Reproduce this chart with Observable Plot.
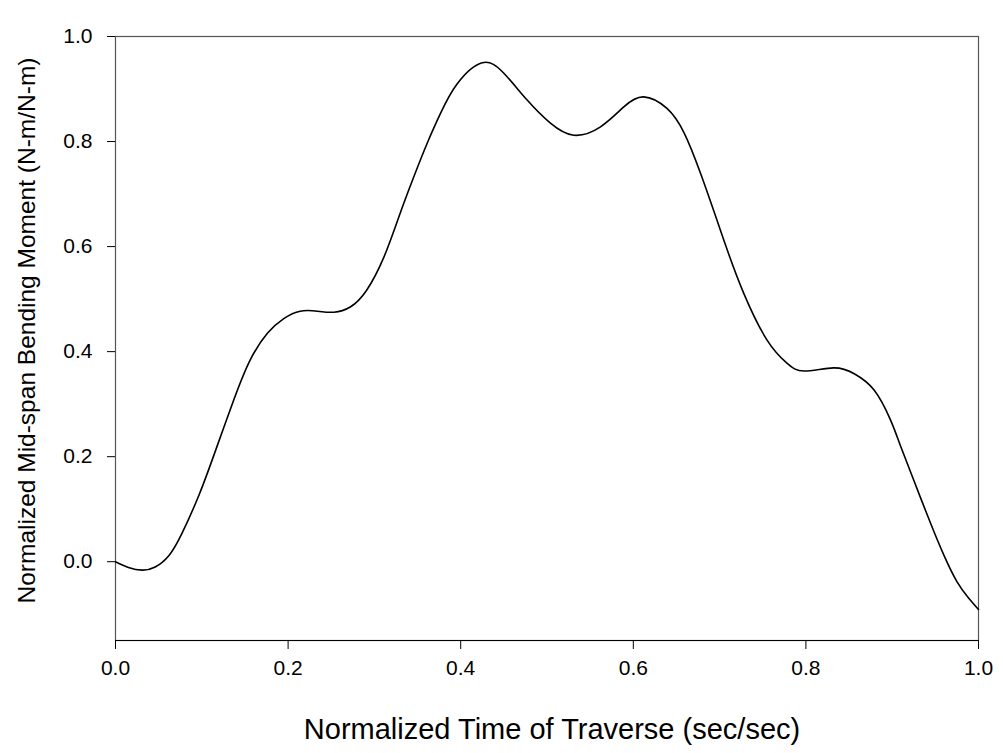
<!DOCTYPE html>
<html>
<head>
<meta charset="utf-8">
<script src="https://cdn.jsdelivr.net/npm/d3@7"></script>
<script src="https://cdn.jsdelivr.net/npm/@observablehq/plot@0.6"></script>
<style>
  html, body { margin: 0; padding: 0; background: #fff; }
  .ch g[aria-label$="tick label"], .ch g[aria-label$="tick label"] text { font-size: 21px; }
</style>
</head>
<body>
<div id="chart"></div>
<script>
const timeValues = [0.000, 0.015, 0.031, 0.046, 0.062, 0.077, 0.097, 0.116, 0.137, 0.156, 0.176, 0.195, 0.214, 0.234, 0.253, 0.272, 0.291, 0.311, 0.328, 0.345, 0.362, 0.377, 0.396, 0.425, 0.450, 0.477, 0.504, 0.531, 0.562, 0.589, 0.612, 0.639, 0.659, 0.678, 0.697, 0.709, 0.728, 0.755, 0.778, 0.798, 0.832, 0.856, 0.879, 0.898, 0.910, 0.925, 0.944, 0.960, 0.975, 0.988, 1.000];
const momentValues = [0.000, -0.011, -0.016, -0.010, 0.012, 0.054, 0.128, 0.212, 0.308, 0.384, 0.435, 0.463, 0.477, 0.477, 0.475, 0.485, 0.517, 0.580, 0.655, 0.730, 0.800, 0.855, 0.910, 0.950, 0.930, 0.879, 0.835, 0.812, 0.828, 0.866, 0.885, 0.863, 0.816, 0.739, 0.650, 0.593, 0.511, 0.422, 0.378, 0.363, 0.369, 0.358, 0.327, 0.270, 0.219, 0.155, 0.075, 0.012, -0.038, -0.068, -0.091];
const xTicks = [0, 0.2, 0.4, 0.6, 0.8, 1.0];
const yTicks = [0, 0.2, 0.4, 0.6, 0.8, 1.0];
const xDomain = [0, 1];
const yDomain = [-0.15, 1.0];
const xTitle = "Normalized Time of Traverse (sec/sec)";
const yTitle = "Normalized Mid-span Bending Moment (N-m/N-m)";

const data = timeValues.map((t, i) => ({t, m: momentValues[i]}));

const chart = Plot.plot({
  className: "ch",
  width: 1003,
  height: 753,
  marginTop: 36,
  marginRight: 25,
  marginBottom: 113,
  marginLeft: 115,
  style: {fontFamily: "Arial, 'Liberation Sans', sans-serif", fontSize: "21px", background: "#fff", color: "#000"},
  x: {domain: xDomain},
  y: {domain: yDomain},
  marks: [
    Plot.frame({stroke: "#555", strokeWidth: 1.2}),
    Plot.ruleY([yDomain[0]], {stroke: "#000", strokeWidth: 1.2}),
    Plot.axisX({ticks: xTicks, tickFormat: d => d.toFixed(1), tickSize: 9, tickPadding: 11, label: null, stroke: "#000", fontSize: 21}),
    Plot.axisY({ticks: yTicks, tickFormat: d => d.toFixed(1), tickSize: 8, tickPadding: 15, label: null, stroke: "#000", fontSize: 21}),
    Plot.line(data, {x: "t", y: "m", curve: "natural", stroke: "#000", strokeWidth: 1.6}),
    Plot.text([xTitle], {frameAnchor: "bottom", textAnchor: "middle", dx: 5, dy: 89, fontSize: 29, lineAnchor: "middle"}),
    Plot.text([yTitle], {frameAnchor: "left", textAnchor: "middle", rotate: -90, dx: -88, dy: -8, fontSize: 24.5, lineAnchor: "middle"})
  ]
});
document.getElementById("chart").appendChild(chart);
</script>
</body>
</html>
